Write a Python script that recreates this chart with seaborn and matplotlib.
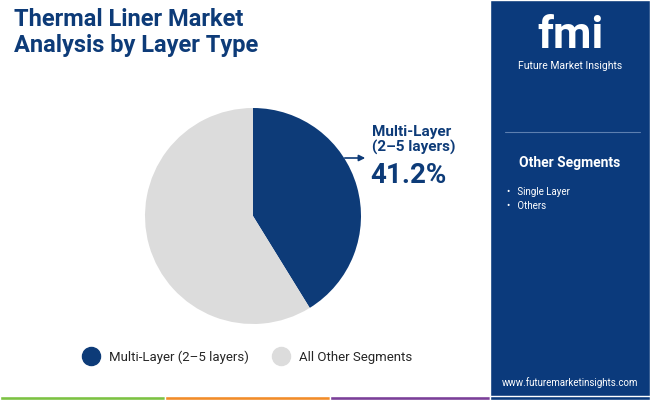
import matplotlib
matplotlib.use("Agg")
import matplotlib.pyplot as plt
import seaborn as sns
from matplotlib.patches import Rectangle

sns.set_theme(style="white")
plt.rcParams["font.family"] = ["Roboto", "DejaVu Sans"]

labels = ["Multi-Layer (2\u20135 layers)", "All Other Segments"]
shares = [41.2, 58.8]
colors = ["#0d3b78", "#dcdcdc"]
other_segments = ["Single Layer", "Others"]

NAVY = "#0d3b78"

fig = plt.figure(figsize=(6.5, 4), dpi=100)
fig.patch.set_facecolor("white")

# right panel
fig.patches.append(Rectangle((490 / 650, 0), 160 / 650, 1, transform=fig.transFigure,
                             facecolor="#0b3a7c", zorder=0))
# bottom strip
for x0, w, c in [(0, 165, "#7cc242"), (165, 165, "#f28c28"), (330, 160, "#7b3f98"), (490, 160, "#0b3a7c")]:
    fig.patches.append(Rectangle((x0 / 650, 0), w / 650, 4 / 400, transform=fig.transFigure,
                                 facecolor=c, zorder=1))

fig.text(14 / 650, 1 - 8 / 400, "Thermal Liner Market\nAnalysis by Layer Type", ha="left", va="top",
         fontsize=17, fontweight="bold", color=NAVY, linespacing=1.15)

# logo
fig.text(570 / 650, 1 - 36 / 400, "fmi", ha="center", va="center", fontsize=32,
         fontweight="bold", color="white")
fig.text(570 / 650, 1 - 66 / 400, "Future Market Insights", ha="center", va="center",
         fontsize=7.5, color="white")
fig.add_artist(plt.Line2D([505 / 650, 640 / 650], [1 - 132 / 400] * 2, color="#5d7fb0", lw=0.8))
fig.text(570 / 650, 1 - 163 / 400, "Other Segments", ha="center", va="center", fontsize=10,
         fontweight="bold", color="white")
for i, s in enumerate(other_segments):
    fig.text(507 / 650, 1 - (192 + i * 14) / 400, "\u2022   " + s, ha="left", va="center",
             fontsize=7, color="white")
fig.text(570 / 650, 1 - 383 / 400, "www.futuremarketinsights.com", ha="center", va="center",
         fontsize=7, color="white")

# pie
ax = fig.add_axes([(253 - 108) / 650, 1 - (216 + 108) / 400, 216 / 650, 216 / 400])
ax.pie(shares, colors=colors, startangle=90, counterclock=False,
       wedgeprops=dict(linewidth=0))
ax.set_xlim(-1, 1)
ax.set_ylim(-1, 1)
ax.set_aspect("equal")

fig.text(372 / 650, 1 - 140 / 400, "Multi-Layer\n(2\u20135 layers)", ha="left", va="center",
         fontsize=11, fontweight="bold", color=NAVY, linespacing=1.1)
fig.text(370 / 650, 1 - 176 / 400, "41.2%", ha="left", va="center", fontsize=20,
         fontweight="bold", color=NAVY)
fig.add_artist(matplotlib.patches.FancyArrowPatch((342 / 650, 1 - 158 / 400), (368 / 650, 1 - 158 / 400),
                                                  transform=fig.transFigure, arrowstyle="-|>",
                                                  mutation_scale=9, color=NAVY, lw=1.2))

# legend
lax = fig.add_axes([0, 1 - 372 / 400, 490 / 650, 30 / 400])
lax.axis("off")
handles = [plt.Line2D([], [], marker="o", ls="", markersize=13, color=c) for c in colors]
lax.legend(handles, labels, loc="center", ncol=2, frameon=False, fontsize=9.5,
           handletextpad=0.3, columnspacing=1.5)

fig.savefig("out.png", dpi=100)
